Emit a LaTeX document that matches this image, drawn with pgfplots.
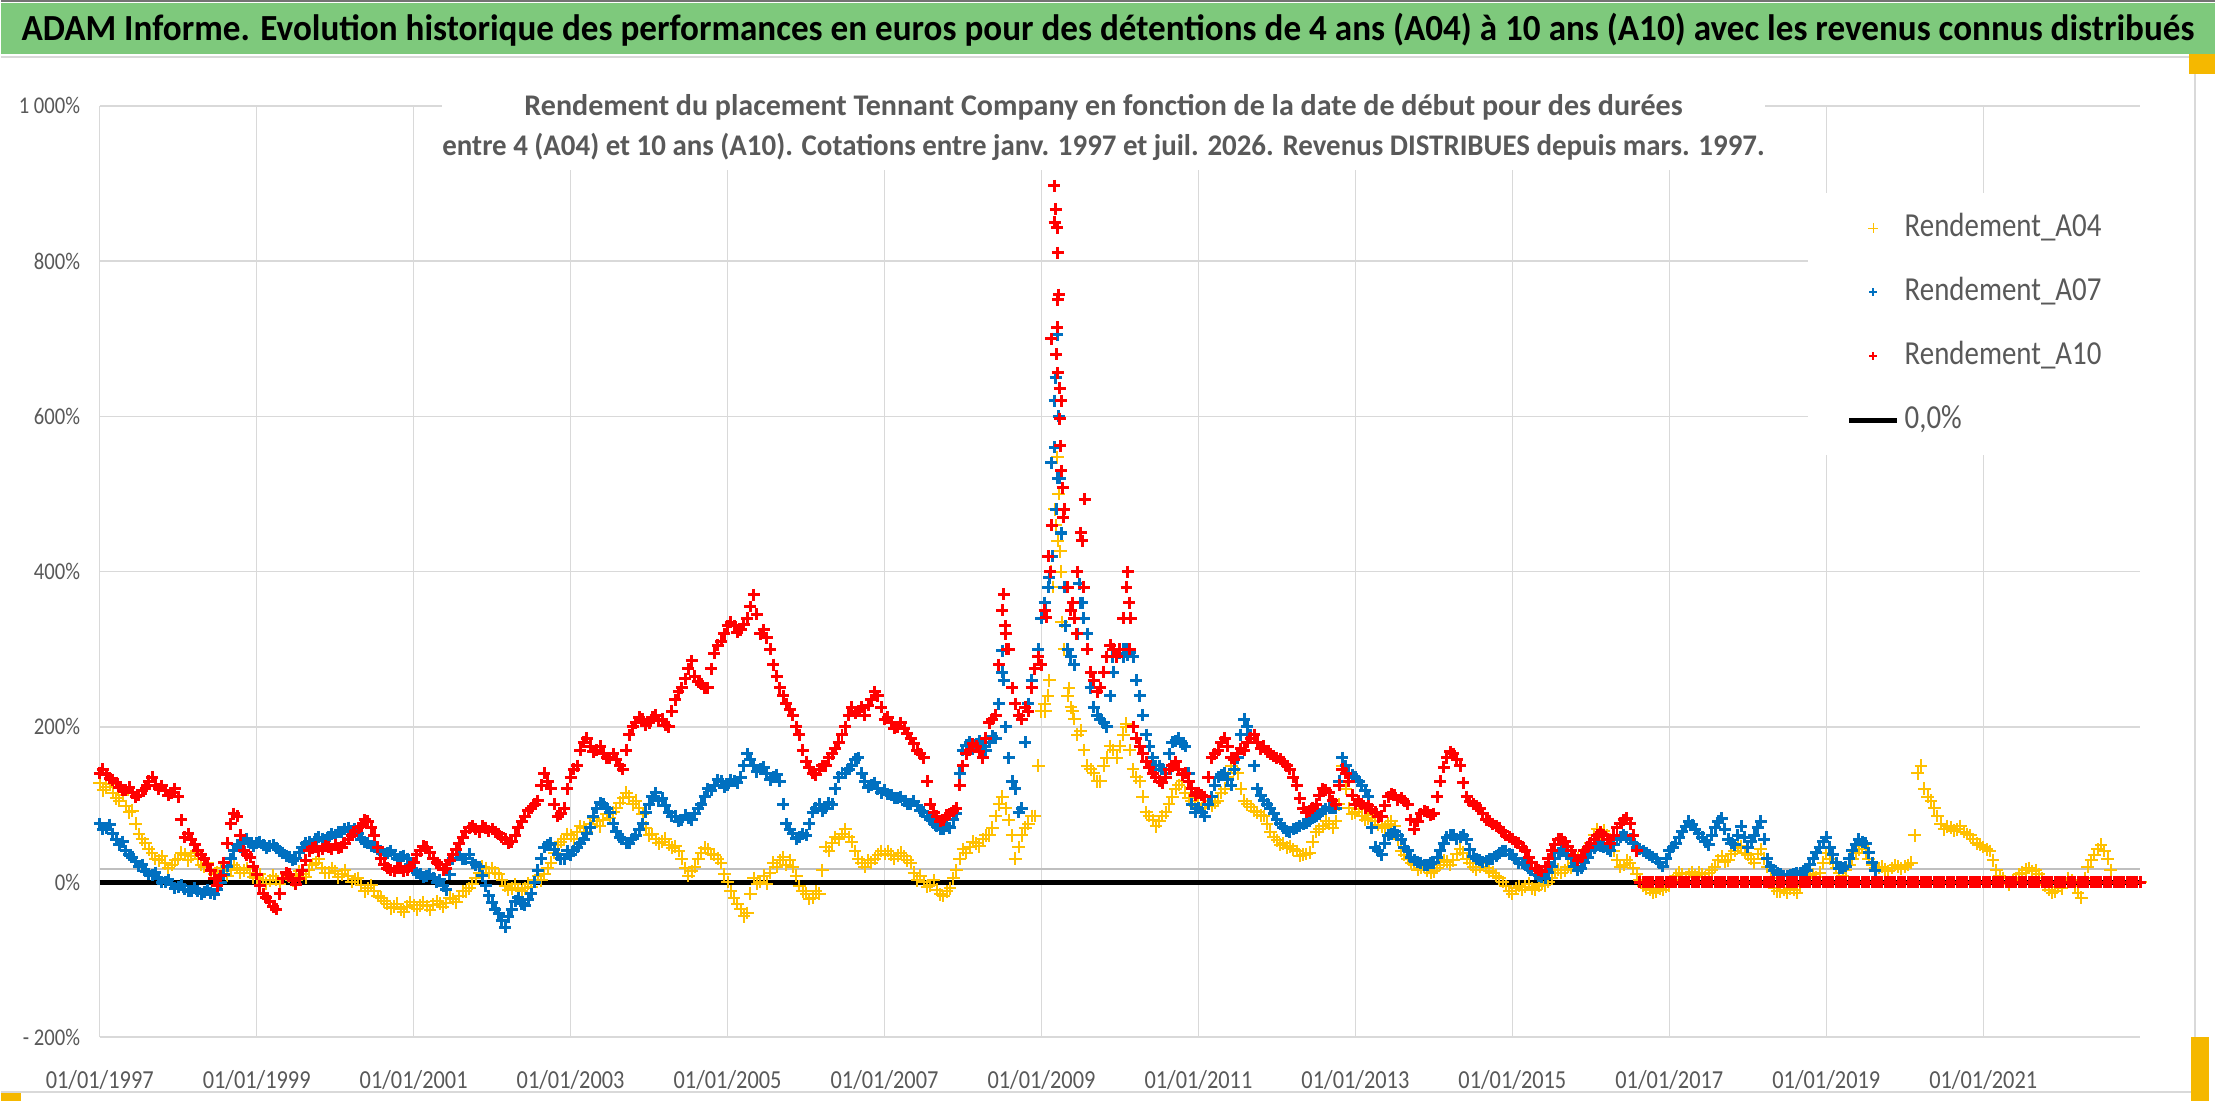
\documentclass[border=0pt]{standalone}
\usepackage{fontspec}
\setmainfont{Carlito}[FakeStretch=0.86]
\usepackage{graphicx}
\usepackage{pgfplots}
\pgfplotsset{compat=1.18}
\usepackage{pgfplotstable}
\definecolor{cA04}{HTML}{FFC000}
\definecolor{cA07}{HTML}{0070C0}
\definecolor{cA10}{HTML}{FF0000}
\definecolor{txtgray}{HTML}{595959}
\definecolor{gridgray}{HTML}{D9D9D9}
\definecolor{axgray}{HTML}{BFBFBF}
\definecolor{titlegreen}{HTML}{7EC97C}
\definecolor{handle}{HTML}{F5B800}

% ---- values at the start of each month, first row = Jan 1997 ----
\pgfplotstableread[row sep=\\]{y\\
128\\122\\115\\105\\98\\92\\62\\50\\38\\28\\24\\22\\
30\\35\\33\\30\\20\\15\\12\\14\\16\\18\\15\\12\\
5\\3\\2\\3\\5\\7\\8\\10\\15\\25\\18\\12\\
14\\10\\8\\4\\-4\\-8\\-12\\-20\\-28\\-32\\-35\\-32\\
-30\\-30\\-31\\-29\\-28\\-27\\-22\\-18\\-12\\-2\\12\\18\\
18\\10\\-5\\-8\\-9\\-8\\-6\\8\\10\\25\\48\\55\\
60\\65\\70\\75\\78\\80\\82\\95\\108\\110\\105\\88\\
60\\55\\52\\48\\46\\30\\8\\20\\38\\42\\35\\25\\
0\\-20\\-35\\-40\\5\\0\\-2\\25\\28\\22\\20\\-5\\
-15\\-20\\-15\\45\\50\\55\\68\\52\\30\\20\\25\\35\\
36\\35\\34\\33\\25\\2\\0\\-4\\-10\\-18\\-8\\15\\
42\\45\\50\\55\\60\\85\\110\\80\\30\\60\\75\\85\\
220\\240\\480\\400\\240\\210\\195\\150\\140\\130\\160\\170\\
175\\200\\145\\130\\90\\80\\78\\90\\110\\125\\115\\105\\
100\\100\\98\\105\\120\\150\\140\\105\\97\\90\\85\\65\\
54\\50\\46\\40\\35\\38\\65\\72\\75\\78\\150\\95\\
90\\85\\82\\78\\72\\75\\72\\40\\30\\22\\18\\15\\
14\\22\\26\\28\\42\\30\\20\\20\\18\\12\\5\\-5\\
-15\\-5\\-6\\-8\\-5\\-4\\5\\16\\15\\18\\30\\32\\
50\\68\\66\\55\\28\\22\\25\\10\\-5\\-10\\-12\\-10\\
-5\\8\\10\\10\\8\\10\\12\\20\\33\\28\\40\\46\\
35\\25\\42\\20\\-8\\-12\\-14\\-10\\-5\\5\\10\\12\\
37\\25\\12\\15\\30\\42\\38\\22\\18\\16\\18\\20\\
20\\25\\140\\120\\105\\85\\68\\70\\68\\65\\60\\50\\
45\\40\\15\\5\\-3\\5\\12\\18\\15\\5\\-10\\-12\\
-8\\5\\-5\\-20\\20\\35\\48\\30\\0\\0\\0\\0\\
0\\
}\tAzero

\pgfplotstableread[row sep=\\]{y\\
75\\70\\62\\48\\40\\32\\20\\14\\9\\4\\0\\-3\\
-6\\-9\\-12\\-12\\-13\\-14\\-10\\10\\30\\48\\52\\50\\
50\\48\\46\\44\\38\\32\\30\\45\\52\\55\\56\\58\\
60\\65\\70\\68\\55\\50\\45\\40\\38\\35\\32\\30\\
15\\10\\8\\5\\3\\-10\\30\\35\\30\\25\\20\\-5\\
-27\\-40\\-58\\-35\\-20\\-30\\-15\\15\\45\\50\\35\\30\\
35\\45\\55\\70\\95\\100\\90\\65\\55\\50\\60\\75\\
100\\115\\108\\90\\85\\80\\82\\88\\100\\120\\125\\130\\
125\\130\\135\\165\\150\\145\\140\\135\\130\\75\\62\\58\\
60\\90\\100\\95\\100\\135\\140\\150\\160\\130\\125\\120\\
118\\112\\108\\105\\100\\98\\90\\80\\72\\68\\70\\88\\
170\\180\\178\\175\\180\\185\\270\\160\\120\\95\\230\\275\\
340\\380\\620\\450\\300\\280\\360\\320\\225\\210\\200\\270\\
295\\300\\290\\240\\190\\160\\150\\140\\180\\185\\175\\100\\
95\\85\\110\\135\\140\\125\\160\\210\\190\\120\\105\\95\\
80\\70\\65\\70\\75\\78\\85\\92\\95\\95\\160\\140\\
135\\125\\110\\45\\35\\60\\65\\55\\40\\28\\25\\22\\
25\\40\\58\\60\\58\\55\\33\\28\\27\\30\\38\\40\\
35\\25\\22\\15\\8\\5\\20\\38\\40\\30\\15\\25\\
40\\48\\45\\40\\55\\60\\55\\45\\40\\35\\30\\20\\
40\\50\\65\\78\\68\\58\\48\\70\\82\\55\\48\\72\\
45\\60\\78\\30\\15\\10\\8\\10\\12\\15\\30\\45\\
58\\35\\18\\20\\40\\55\\50\\25\\0\\0\\0\\0\\
0\\0\\0\\0\\0\\0\\0\\0\\0\\0\\0\\0\\
0\\0\\0\\0\\0\\0\\0\\0\\0\\0\\0\\0\\
0\\0\\0\\0\\0\\0\\0\\0\\0\\0\\0\\0\\
0\\
}\tAseven

\pgfplotstableread[row sep=\\]{y\\
140\\138\\132\\122\\118\\115\\112\\120\\135\\120\\118\\115\\
110\\58\\55\\40\\30\\15\\-5\\25\\75\\85\\40\\32\\
10\\-15\\-25\\-35\\5\\10\\-3\\15\\40\\45\\42\\45\\
48\\45\\55\\65\\72\\78\\60\\30\\18\\14\\18\\15\\
25\\40\\45\\30\\22\\18\\35\\50\\65\\72\\65\\70\\
68\\62\\55\\52\\70\\85\\95\\105\\140\\120\\85\\95\\
135\\150\\180\\175\\170\\165\\160\\158\\145\\190\\205\\210\\
205\\215\\210\\200\\235\\250\\275\\265\\255\\250\\295\\310\\
330\\330\\325\\340\\370\\320\\315\\280\\250\\230\\215\\190\\
155\\140\\145\\150\\165\\180\\200\\225\\220\\215\\235\\240\\
210\\205\\200\\198\\185\\170\\160\\100\\85\\80\\88\\95\\
150\\170\\175\\160\\205\\215\\350\\300\\230\\210\\220\\275\\
280\\420\\850\\620\\380\\340\\450\\300\\260\\250\\290\\300\\
300\\380\\200\\175\\155\\140\\130\\135\\150\\145\\140\\120\\
115\\110\\160\\170\\185\\160\\165\\170\\185\\180\\175\\165\\
160\\155\\145\\125\\95\\92\\100\\120\\115\\100\\145\\130\\
100\\100\\98\\90\\85\\110\\112\\108\\100\\68\\88\\90\\
88\\130\\160\\165\\150\\110\\100\\95\\80\\75\\70\\60\\
55\\50\\40\\25\\15\\20\\40\\55\\52\\40\\28\\40\\
50\\60\\60\\50\\70\\80\\75\\40\\0\\0\\0\\0\\
0\\0\\0\\0\\0\\0\\0\\0\\0\\0\\0\\0\\
0\\0\\0\\0\\0\\0\\0\\0\\0\\0\\0\\0\\
0\\0\\0\\0\\0\\0\\0\\0\\0\\0\\0\\0\\
0\\0\\0\\0\\0\\0\\0\\0\\0\\0\\0\\0\\
0\\0\\0\\0\\0\\0\\0\\0\\0\\0\\0\\0\\
0\\0\\0\\0\\0\\0\\0\\0\\0\\0\\0\\0\\
0\\
}\tAten

% ---- values read at mid-month (the other edge of the daily cloud) ----
\pgfplotstableread[row sep=\\]{y\\
118\\126\\108\\112\\90\\75\\55\\42\\30\\33\\18\\28\\
38\\28\\38\\22\\24\\10\\18\\8\\22\\12\\18\\6\\
10\\-2\\8\\-2\\10\\2\\14\\6\\22\\30\\12\\18\\
6\\15\\0\\5\\-12\\-4\\-18\\-25\\-34\\-28\\-38\\-26\\
-35\\-26\\-36\\-25\\-32\\-20\\-26\\-12\\-8\\5\\20\\12\\
12\\2\\-10\\-3\\-12\\-2\\2\\2\\18\\38\\52\\62\\
55\\72\\64\\82\\72\\88\\90\\102\\115\\100\\95\\70\\
62\\50\\56\\44\\40\\18\\14\\30\\44\\36\\30\\10\\
-12\\-28\\-44\\-15\\-2\\8\\12\\20\\32\\28\\8\\-12\\
-22\\-12\\15\\40\\58\\62\\58\\40\\25\\28\\30\\40\\
40\\30\\38\\28\\12\\8\\-6\\2\\-16\\-12\\5\\30\\
38\\52\\46\\60\\70\\100\\95\\60\\45\\70\\85\\150\\
230\\400\\440\\300\\225\\190\\170\\145\\130\\150\\175\\160\\
190\\170\\135\\110\\85\\72\\85\\100\\120\\130\\108\\98\\
95\\104\\102\\115\\135\\145\\120\\100\\92\\86\\75\\58\\
48\\44\\42\\34\\36\\52\\68\\78\\70\\100\\120\\88\\
94\\80\\86\\74\\70\\78\\55\\35\\25\\16\\20\\12\\
18\\28\\22\\36\\38\\24\\16\\24\\14\\8\\0\\-12\\
-8\\-10\\-2\\-10\\-2\\0\\12\\12\\20\\24\\28\\42\\
60\\62\\60\\40\\20\\28\\18\\2\\-8\\-14\\-8\\-6\\
2\\12\\6\\13\\12\\6\\16\\28\\26\\36\\44\\38\\
30\\36\\30\\5\\-12\\-10\\-8\\-14\\0\\8\\6\\25\\
30\\18\\8\\22\\38\\46\\30\\18\\20\\14\\22\\17\\
22\\60\\150\\110\\95\\75\\72\\66\\72\\62\\55\\48\\
42\\28\\8\\0\\2\\10\\16\\14\\10\\-4\\-14\\-6\\
0\\2\\-14\\5\\28\\42\\40\\15\\0\\0\\0\\0\\
}\tAzeroM

\pgfplotstableread[row sep=\\]{y\\
68\\74\\55\\52\\35\\26\\22\\10\\12\\0\\3\\-8\\
-4\\-12\\-8\\-15\\-10\\-16\\0\\20\\40\\45\\56\\46\\
52\\44\\48\\40\\34\\28\\38\\50\\48\\58\\54\\62\\
64\\68\\66\\62\\52\\46\\42\\36\\40\\30\\34\\22\\
12\\6\\10\\0\\-5\\10\\35\\30\\36\\22\\8\\-18\\
-35\\-50\\-45\\-25\\-28\\-22\\0\\30\\48\\42\\30\\40\\
40\\50\\62\\85\\102\\95\\75\\58\\50\\56\\68\\90\\
110\\105\\98\\85\\78\\86\\80\\95\\110\\118\\132\\122\\
132\\128\\150\\158\\142\\148\\132\\138\\100\\68\\56\\62\\
75\\95\\92\\102\\120\\140\\145\\158\\140\\122\\128\\115\\
114\\108\\110\\100\\104\\92\\85\\76\\68\\72\\80\\140\\
176\\172\\182\\170\\188\\230\\200\\130\\90\\180\\260\\300\\
360\\540\\520\\380\\290\\320\\340\\250\\215\\205\\240\\290\\
290\\296\\260\\215\\175\\150\\145\\165\\182\\178\\140\\90\\
90\\100\\125\\138\\132\\145\\190\\200\\150\\112\\100\\88\\
75\\66\\68\\72\\76\\82\\88\\94\\96\\130\\150\\138\\
130\\118\\70\\40\\50\\62\\60\\45\\32\\26\\22\\24\\
32\\50\\60\\56\\60\\42\\30\\26\\30\\34\\40\\36\\
30\\24\\18\\10\\6\\12\\30\\40\\36\\20\\18\\32\\
44\\46\\42\\48\\58\\58\\50\\42\\38\\32\\25\\30\\
45\\58\\72\\74\\62\\52\\60\\78\\68\\50\\60\\58\\
52\\70\\55\\20\\12\\8\\9\\11\\14\\22\\38\\52\\
45\\25\\18\\30\\48\\52\\38\\15\\
}\tAsevenM

\pgfplotstableread[row sep=\\]{y\\
145\\134\\128\\118\\122\\110\\118\\130\\125\\124\\112\\120\\
80\\62\\48\\35\\22\\5\\8\\50\\88\\60\\35\\20\\
-5\\-20\\-32\\-15\\12\\2\\5\\28\\44\\40\\46\\42\\
44\\50\\60\\70\\80\\70\\45\\22\\15\\18\\14\\20\\
35\\46\\38\\25\\16\\28\\42\\58\\70\\68\\72\\66\\
65\\58\\50\\60\\78\\92\\100\\125\\130\\100\\88\\120\\
145\\170\\185\\168\\175\\160\\165\\150\\170\\200\\212\\202\\
212\\208\\202\\220\\245\\262\\285\\258\\250\\275\\305\\320\\
335\\322\\332\\355\\345\\325\\300\\265\\240\\222\\200\\170\\
148\\138\\150\\160\\172\\190\\215\\218\\225\\228\\245\\225\\
212\\198\\205\\192\\178\\165\\130\\90\\78\\86\\92\\125\\
165\\178\\168\\185\\210\\280\\320\\250\\215\\225\\250\\290\\
350\\700\\750\\480\\350\\400\\380\\270\\245\\270\\305\\290\\
340\\300\\185\\165\\148\\135\\128\\145\\155\\138\\130\\112\\
112\\135\\165\\180\\175\\158\\172\\180\\190\\172\\168\\162\\
158\\150\\135\\108\\90\\96\\112\\118\\105\\125\\140\\112\\
104\\96\\94\\84\\98\\114\\106\\104\\80\\78\\92\\86\\
110\\148\\168\\158\\128\\104\\98\\88\\78\\72\\65\\58\\
52\\45\\32\\18\\14\\30\\48\\56\\46\\34\\32\\45\\
55\\64\\55\\60\\76\\82\\60\\0\\0\\0\\0\\0\\
0\\0\\0\\0\\0\\0\\0\\0\\0\\0\\0\\0\\
0\\0\\0\\0\\0\\0\\0\\0\\0\\0\\0\\0\\
0\\0\\0\\0\\0\\0\\0\\0\\0\\0\\0\\0\\
0\\0\\0\\0\\0\\0\\0\\0\\0\\0\\0\\0\\
0\\0\\0\\0\\0\\0\\0\\0\\0\\0\\0\\0\\
0\\0\\0\\0\\0\\0\\0\\0\\0\\0\\0\\0\\
}\tAtenM

% ---- extra points read in the dense 2008-2010 clouds ----
\pgfplotstableread[row sep=\\]{x y\\
2009.2 547\\2009.22 500\\2009.18 460\\2009.24 426\\2009.15 380\\2009.26 335\\
2009.1 260\\2009.05 220\\2009.35 250\\2009.4 220\\2008.5 110\\2010.08 204\\
}\tAzeroX
\pgfplotstableread[row sep=\\]{x y\\
2009.2 705\\2009.18 650\\2009.22 600\\2009.17 560\\2009.23 520\\2009.19 480\\
2009.25 449\\2009.14 420\\2009.1 392\\2009.05 350\\2009.3 330\\2009.48 384\\
2009.52 360\\2008.5 298\\2008.52 260\\2010.05 300\\2010.1 292\\2009.9 290\\
}\tAsevenX
\pgfplotstableread[row sep=\\]{x y\\
2009.16 897\\2009.18 867\\2009.2 843\\2009.21 811\\2009.22 757\\2009.2 715\\
2009.19 680\\2009.21 656\\2009.23 636\\2009.23 597\\2009.24 562\\2009.25 530\\
2009.27 508\\2009.28 470\\2009.13 460\\2009.11 400\\2009.06 341\\2009.4 360\\
2009.45 320\\2009.52 440\\2009.55 493\\2008.52 371\\2008.54 330\\2008.56 300\\
2010.1 400\\2010.12 360\\2010.14 340\\
}\tAtenX

\pgfplotsset{
  yelstyle/.style={only marks, mark=+, color=cA04, mark size=3.2pt, mark options={line width=1pt}},
  bluestyle/.style={only marks, mark=+, color=cA07, mark size=3pt, mark options={line width=1.5pt}},
  redstyle/.style={only marks, mark=+, color=cA10, mark size=3pt, mark options={line width=1.5pt}},
}

\begin{document}
\begin{tikzpicture}[x=1pt,y=1pt]
% canvas (1 px of the reference = 0.5pt)
\fill[white] (0,0) rectangle (1108,551);
\fill[titlegreen] (0,524) rectangle (1108,549.5);
\draw[black!55, line width=0.8pt] (0,550.6) -- (1108,550.6);
\draw[gridgray, line width=0.8pt] (0,522.6) -- (1098,522.6) -- (1098,4.5) -- (0,4.5);
\fill[handle] (0,0) rectangle (10,4);
\fill[handle] (1096,0) rectangle (1105,32);
\fill[handle] (1095,514) rectangle (1108,524);
\node[anchor=base, inner sep=0pt] at (554,530.8)
  {\resizebox{1087pt}{\height}{\fontsize{18.4pt}{20pt}\selectfont\bfseries ADAM Informe. Evolution historique des performances en euros pour des détentions de 4 ans (A04) à 10 ans (A10) avec les revenus connus distribués}};

\begin{axis}[
  at={(49.5pt,32pt)}, anchor=south west,
  scale only axis, width=1021pt, height=466pt,
  xmin=1997, xmax=2023, ymin=-200, ymax=1000,
  xtick={1997,1999,2001,2003,2005,2007,2009,2011,2013,2015,2017,2019,2021},
  xticklabels={01/01/1997,01/01/1999,01/01/2001,01/01/2003,01/01/2005,01/01/2007,01/01/2009,01/01/2011,01/01/2013,01/01/2015,01/01/2017,01/01/2019,01/01/2021},
  ytick={-200,0,200,400,600,800,1000},
  yticklabels={- 200\%,0\%,200\%,400\%,600\%,800\%,1 000\%},
  grid=major, major grid style={gridgray, line width=0.75pt},
  axis line style={draw=none}, major tick length=0pt,
  xticklabel style={font=\fontsize{13pt}{15pt}\selectfont, text=txtgray, yshift=-13pt},
  yticklabel style={font=\fontsize{12pt}{14pt}\selectfont, text=txtgray, xshift=-6.3pt},
  clip=false,
  legend image code/.code={\draw[mark repeat=2,mark phase=2,#1] plot coordinates {(0pt,0pt) (12pt,0pt) (24pt,0pt)};},
  legend cell align=left,
  legend style={at={(0.8369,0.9067)}, anchor=north west, draw=none, fill=white,
    font=\fontsize{16.8pt}{18pt}\selectfont, text=txtgray,
    inner xsep=19.5pt, inner ysep=9.5pt, row sep=16pt,
    nodes={inner sep=0pt, text height=12pt, text depth=4pt},
    /tikz/every odd column/.append style={column sep=2.5pt}},
]
\addlegendimage{only marks, mark=+, color=cA04, mark size=2.5pt, mark options={line width=0.6pt}}
\addlegendentry{Rendement\_A04}
\addlegendimage{only marks, mark=+, color=cA07, mark size=2pt, mark options={line width=1pt}}
\addlegendentry{Rendement\_A07}
\addlegendimage{only marks, mark=+, color=cA10, mark size=2pt, mark options={line width=1pt}}
\addlegendentry{Rendement\_A10}
\addlegendimage{no marks, black, line width=2.5pt}
\addlegendentry{0,0\%}

\addplot[axgray, line width=0.75pt, forget plot] coordinates {(1997,17) (2023,17)};
\addplot[black, line width=2.5pt, forget plot] coordinates {(1997,0) (2023,0)};

\addplot[yelstyle, forget plot] table[x expr=1997+\coordindex/12, y=y] {\tAzero};
\addplot[yelstyle, forget plot] table[x expr=1997+(\coordindex+0.5)/12, y=y] {\tAzeroM};
\addplot[yelstyle, forget plot] table[x=x, y=y] {\tAzeroX};
\addplot[bluestyle, forget plot] table[x expr=1997+\coordindex/12, y=y] {\tAseven};
\addplot[bluestyle, forget plot] table[x expr=1997+(\coordindex+0.5)/12, y=y] {\tAsevenM};
\addplot[bluestyle, forget plot] table[x=x, y=y] {\tAsevenX};
\addplot[redstyle, forget plot] table[x expr=1997+\coordindex/12, y=y] {\tAten};
\addplot[redstyle, forget plot] table[x expr=1997+(\coordindex+0.5)/12, y=y] {\tAtenM};
\addplot[redstyle, forget plot] table[x=x, y=y] {\tAtenX};
\end{axis}

% white title box over the grid
\fill[white] (221,466) rectangle (882.5,507);
\node[anchor=base, inner sep=0pt, text=txtgray] at (551.75,493.3)
  {\resizebox{579.5pt}{\height}{\fontsize{15pt}{17pt}\selectfont\bfseries Rendement du placement Tennant Company en fonction de la date de début pour des durées}};
\node[anchor=base, inner sep=0pt, text=txtgray] at (551.75,473.3)
  {\resizebox{661.5pt}{\height}{\fontsize{15pt}{17pt}\selectfont\bfseries entre 4 (A04) et 10 ans (A10). Cotations entre janv. 1997 et juil. 2026. Revenus DISTRIBUES depuis mars. 1997.}};
\end{tikzpicture}
\end{document}
